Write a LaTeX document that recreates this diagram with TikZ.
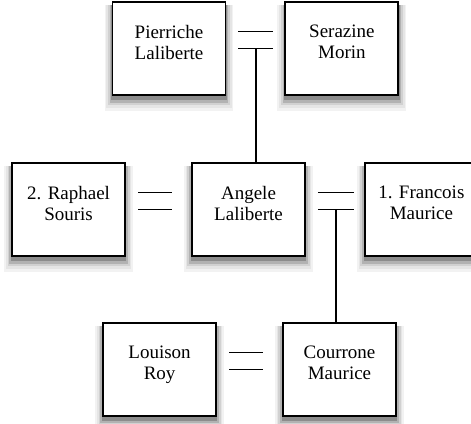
\documentclass[tikz,border=0pt]{standalone}
\usepackage{fontspec}
\setmainfont{Liberation Serif}
\usetikzlibrary{positioning,shadows}
\tikzstyle{person} = [draw, fill=white, rectangle, line width=1.9pt,
    minimum width=113pt, minimum height=93pt, inner sep=0pt,
    general shadow={shadow yshift=-8pt, shadow scale=1.14, fill=black!5},
    general shadow={shadow yshift=-7pt, shadow scale=1.11, fill=black!10},
    general shadow={shadow yshift=-6pt, shadow scale=1.08, fill=black!18},
    general shadow={shadow yshift=-5pt, shadow scale=1.05, fill=black!30},
    general shadow={shadow yshift=-4pt, shadow scale=1.02, fill=black!45}]
\tikzstyle{nametext} = [align=center, anchor=north, inner sep=0pt, font=\fontsize{19}{21}\selectfont]
\tikzstyle{tie} = [line width=1.6pt]

\begin{document}
\begin{tikzpicture}[node distance=65pt]
    \useasboundingbox (0pt,0pt) rectangle (471pt,-423pt);
    \node [person] (angele) at (248.5pt,-209.5pt) {};
    \node [person, left=65pt of angele] (raphael) {};
    \node [person, right=58pt of angele] (francois) {};
    \node [person, above=66pt of angele, xshift=-79.5pt] (pierriche) {};
    \node [person, right=58pt of pierriche] (serazine) {};
    \node [person, below=65pt of angele, xshift=91pt] (courrone) {};
    \node [person, left=65pt of courrone] (louison) {};

    \node [nametext] (pierriche text) at ([yshift=-24pt]pierriche.north) {Pierriche\\Laliberte};
    \node [nametext] (serazine text) at ([yshift=-24pt]serazine.north) {Serazine\\Morin};
    \node [nametext] (raphael text) at ([yshift=-24pt]raphael.north) {2. Raphael\\Souris};
    \node [nametext] (angele text) at ([yshift=-24pt]angele.north) {Angele\\Laliberte};
    \node [nametext] (francois text) at ([yshift=-24pt]francois.north) {1. Francois\\Maurice};
    \node [nametext] (louison text) at ([yshift=-24pt]louison.north) {Louison\\Roy};
    \node [nametext] (courrone text) at ([yshift=-24pt]courrone.north) {Courrone\\Maurice};

    \draw [tie] ([shift={(12pt,17pt)}]pierriche.east) -- ([shift={(-11pt,17pt)}]serazine.west);
    \draw [tie] ([xshift=12pt]pierriche.east) -- coordinate (pierriche down) ([xshift=-11pt]serazine.west);
    \draw [tie] (pierriche down) -- (pierriche down |- angele.north);

    \draw [tie] ([shift={(12pt,17pt)}]raphael.east) -- ([shift={(-19pt,17pt)}]angele.west);
    \draw [tie] ([xshift=12pt]raphael.east) -- ([xshift=-19pt]angele.west);

    \draw [tie] ([shift={(12pt,17pt)}]angele.east) -- ([shift={(-10pt,17pt)}]francois.west);
    \draw [tie] ([xshift=12pt]angele.east) -- coordinate (angele down) ([xshift=-10pt]francois.west);
    \draw [tie] (angele down) -- (angele down |- courrone.north);

    \draw [tie] ([shift={(12pt,17pt)}]louison.east) -- ([shift={(-19pt,17pt)}]courrone.west);
    \draw [tie] ([xshift=12pt]louison.east) -- ([xshift=-19pt]courrone.west);
\end{tikzpicture}
\end{document}
